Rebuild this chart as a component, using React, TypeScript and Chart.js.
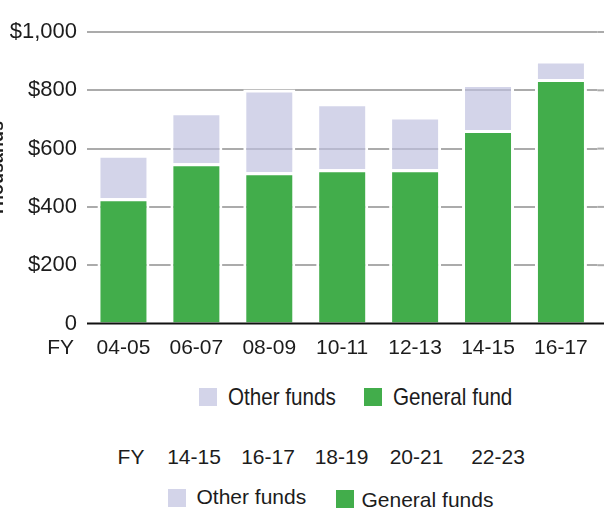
import React, { useEffect, useRef } from "react";
import { Chart, registerables } from "chart.js";

Chart.register(...registerables);

const categories = ["04-05", "06-07", "08-09", "10-11", "12-13", "14-15", "16-17"];
const generalFund = [430, 550, 519, 529, 529, 664, 839];
const otherFunds = [149, 175, 284, 227, 181, 158, 63];
const yTicks = [0, 200, 400, 600, 800, 1000];
const yTickLabels = ["0", "$200", "$400", "$600", "$800", "$1,000"];
const axisTitle = "Thousands";
const axisPrefix = "FY";
const seriesNames = ["Other funds", "General fund"];
const lowerYears = ["14-15", "16-17", "18-19", "20-21", "22-23"];
const lowerNames = ["Other funds", "General funds"];

const SANS = '"Liberation Sans", Arial, Helvetica, sans-serif';
const GREEN = "#42ad4b";
const PURPLE_T = "rgba(190,192,223,0.68)";
const PURPLE = "#d3d4e9";
const TEXT = "#1c1c1c";
const GRID = "#ababab";

const extrasPlugin = {
  id: "extras",
  afterDraw(chart: any) {
    const { ctx, chartArea, scales } = chart;
    const y = scales.y;
    const W = chart.width;
    ctx.save();
    ctx.strokeStyle = GRID;
    ctx.lineWidth = 2;
    yTicks.forEach((v) => {
      if (v === 0) return;
      const py = y.getPixelForValue(v);
      ctx.beginPath();
      ctx.moveTo(chartArea.right, py);
      ctx.lineTo(W, py);
      ctx.stroke();
    });
    const p0 = y.getPixelForValue(0);
    ctx.strokeStyle = "#111";
    ctx.lineWidth = 2;
    ctx.beginPath();
    ctx.moveTo(chartArea.left, p0);
    ctx.lineTo(W, p0);
    ctx.stroke();
    ctx.fillStyle = TEXT;
    ctx.font = `21px ${SANS}`;
    ctx.textAlign = "right";
    ctx.textBaseline = "middle";
    ctx.fillText(axisPrefix, 74, p0 + 24.5);
    ctx.translate(2.5, 169);
    ctx.rotate(-Math.PI / 2);
    ctx.font = `bold 18px ${SANS}`;
    ctx.textAlign = "center";
    ctx.textBaseline = "alphabetic";
    ctx.fillText(axisTitle, 0, 0);
    ctx.restore();
  },
};

function BarChart() {
  const ref = useRef<HTMLCanvasElement | null>(null);
  useEffect(() => {
    if (!ref.current) return;
    const chart = new Chart(ref.current, {
      type: "bar",
      data: {
        labels: categories,
        datasets: [
          {
            label: seriesNames[1],
            data: generalFund,
            backgroundColor: GREEN,
            borderColor: "#ffffff",
            borderWidth: 3,
            categoryPercentage: 1,
            barPercentage: 0.713,
          },
          {
            label: seriesNames[0],
            data: otherFunds,
            backgroundColor: PURPLE_T,
            borderColor: "#ffffff",
            borderWidth: 3,
            categoryPercentage: 1,
            barPercentage: 0.713,
          },
        ],
      },
      options: {
        animation: false,
        responsive: false,
        maintainAspectRatio: false,
        layout: { padding: { top: 32, right: 6.6, bottom: 6.5, left: 0 } },
        plugins: { legend: { display: false }, tooltip: { enabled: false } },
        scales: {
          x: {
            stacked: true,
            afterFit: (s: any) => {
              s.height = 40;
            },
            grid: { display: false, drawTicks: false },
            border: { display: false },
            ticks: { color: TEXT, font: { family: SANS, size: 21 }, padding: 12, maxRotation: 0, autoSkip: false },
          },
          y: {
            stacked: true,
            min: 0,
            max: 1000,
            afterFit: (s: any) => {
              s.width = 87;
            },
            afterBuildTicks: (s: any) => {
              s.ticks = yTicks.map((v) => ({ value: v }));
            },
            grid: {
              drawTicks: false,
              lineWidth: 2,
              color: (c: any) => (c.tick && c.tick.value === 0 ? "rgba(0,0,0,0)" : GRID),
            },
            border: { display: false },
            ticks: {
              color: TEXT,
              font: { family: SANS, size: 22 },
              padding: 10,
              callback: (v: any) => {
                const i = yTicks.indexOf(Number(v));
                return i >= 0 ? yTickLabels[i] : "";
              },
            },
          },
        },
      },
      plugins: [extrasPlugin],
    });
    return () => chart.destroy();
  }, []);
  return <canvas ref={ref} width={604} height={370} style={{ position: "absolute", left: 0, top: 0, width: 604, height: 370 }} />;
}

const abs = (left: number, top: number, extra: any = {}) => ({ position: "absolute" as const, left, top, whiteSpace: "nowrap" as const, ...extra });
const narrowText = { font: `24px ${SANS}`, lineHeight: "30px", color: TEXT, transform: "scaleX(0.86)", transformOrigin: "0 50%" };

export default function App() {
  const yearCenters = [194, 268, 341.5, 416.5, 498];
  return (
    <div style={{ position: "fixed", left: 0, top: 0, width: 604, height: 509, background: "#fff", overflow: "hidden" }}>
      <BarChart />
      <div style={abs(199, 388, { width: 18, height: 18, background: PURPLE })} />
      <div style={abs(227.5, 382, narrowText)}>{seriesNames[0]}</div>
      <div style={abs(364, 388, { width: 18, height: 18, background: GREEN })} />
      <div style={abs(393, 382, narrowText)}>{seriesNames[1]}</div>
      <div style={abs(131, 442, { font: `21px ${SANS}`, lineHeight: "30px", color: TEXT, transform: "translateX(-50%)" })}>{axisPrefix}</div>
      {lowerYears.map((t, i) => (
        <div key={t} style={abs(yearCenters[i], 442, { font: `21px ${SANS}`, lineHeight: "30px", color: TEXT, transform: "translateX(-50%)" })}>{t}</div>
      ))}
      <div style={abs(168, 489, { width: 18, height: 18, background: PURPLE })} />
      <div style={abs(196.5, 482, { font: `21px ${SANS}`, lineHeight: "30px", color: TEXT })}>{lowerNames[0]}</div>
      <div style={abs(336, 490, { width: 18, height: 18, background: GREEN })} />
      <div style={abs(361.5, 485, { font: `21px ${SANS}`, lineHeight: "30px", color: TEXT })}>{lowerNames[1]}</div>
    </div>
  );
}
